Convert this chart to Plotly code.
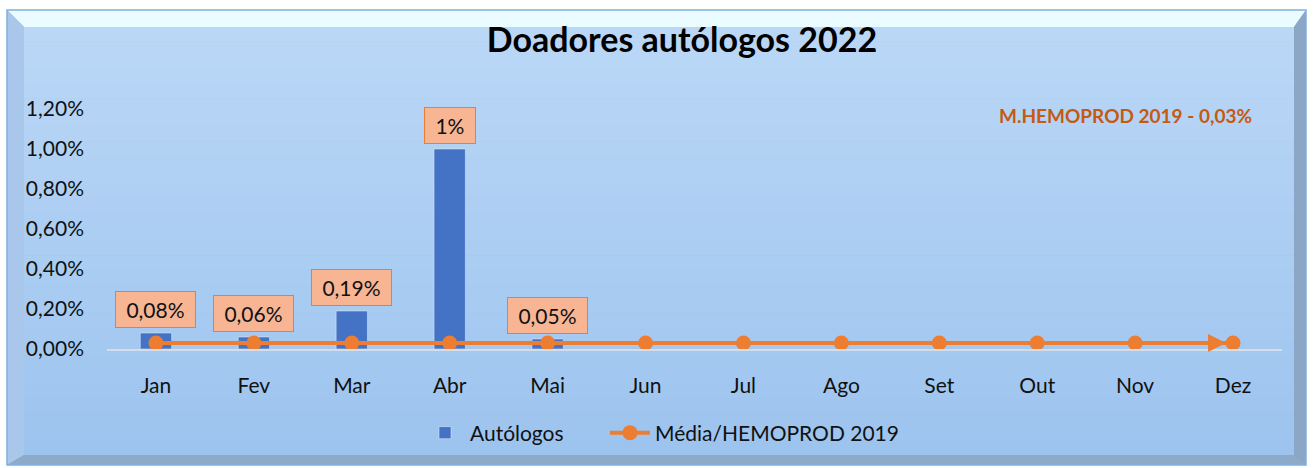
import plotly.graph_objects as go

months = ["Jan", "Fev", "Mar", "Abr", "Mai", "Jun", "Jul", "Ago", "Set", "Out", "Nov", "Dez"]
autologos = [0.0008, 0.0006, 0.0019, 0.0100, 0.0005, None, None, None, None, None, None, None]
media_2019 = [0.0003, 0.0003, 0.0003, 0.0003, 0.0003, 0.0003, 0.0003, 0.0003, 0.0003, 0.0003, 0.0003, 0.0003]
label_texts = ["0,08%", "0,06%", "0,19%", "1%", "0,05%"]
y_ticks = [0, 0.002, 0.004, 0.006, 0.008, 0.010, 0.012]

W, H = 1314, 468
PL, PR, PT, PB = 107, 1282, 89, 349  # plot area in pixels
FONT = "Lato"


def px(x):
    return (x - PL) / (PR - PL)


def py(y):
    return (PB - y) / (PB - PT)


def hexmix(c1, c2, t):
    a = [int(c1[i:i + 2], 16) for i in (1, 3, 5)]
    b = [int(c2[i:i + 2], 16) for i in (1, 3, 5)]
    return "#" + "".join(f"{round(a[k] + (b[k] - a[k]) * t):02x}" for k in range(3))


shapes = []
X0, X1, Y0, Y1 = 7, 1306, 10, 465
IX0, IX1, IY0, IY1 = 24, 1294, 27, 455


def poly(points, color):
    d = "M " + " L ".join(f"{px(x)},{py(y)}" for x, y in points) + " Z"
    return dict(type="path", path=d, xref="paper", yref="paper", fillcolor=color,
                line=dict(width=0), layer="below")


shapes.append(poly([(X0, Y0), (X1, Y0), (X1, Y1), (X0, Y1)], "#8fabcb"))
n = 30
for i in range(n):
    ya = IY0 + (IY1 - IY0) * i / n
    yb = IY0 + (IY1 - IY0) * (i + 1) / n + 0.5
    shapes.append(poly([(IX0, ya), (IX1, ya), (IX1, yb), (IX0, yb)],
                       hexmix("#bad7f6", "#9dc4ef", i / (n - 1))))
shapes.append(poly([(X0, Y0), (X1, Y0), (IX1, IY0), (IX0, IY0)], "#eafcff"))
shapes.append(poly([(X0, Y0), (IX0, IY0), (IX0, IY1), (X0, Y1)], "#a9c7ea"))
shapes.append(poly([(X1, Y0), (X1, Y1), (IX1, IY1), (IX1, IY0)], "#8ba6c6"))
shapes.append(poly([(X0, Y1), (IX0, IY1), (IX1, IY1), (X1, Y1)], "#8daac9"))
shapes.append(dict(type="path",
                   path=f"M {px(X0)},{py(Y0)} L {px(X1)},{py(Y0)} L {px(X1)},{py(Y1)} L {px(X0)},{py(Y1)} Z",
                   xref="paper", yref="paper", line=dict(color="#7fb0e0", width=1.5), layer="below"))

fig = go.Figure()
fig.add_trace(go.Bar(x=months, y=autologos, name="Autólogos", marker_color="#4472c4",
                     width=0.32, legend="legend"))
fig.add_trace(go.Scatter(x=months, y=media_2019, name="Média/HEMOPROD 2019", mode="lines+markers",
                         line=dict(color="#ed7d31", width=4),
                         marker=dict(color="#ed7d31", size=15), legend="legend2"))

annotations = []
for i, t in enumerate(label_texts):
    annotations.append(dict(x=months[i], y=autologos[i], text="&nbsp;" + t + "&nbsp;", showarrow=False,
                            yanchor="bottom", yshift=5, bgcolor="#f7b594", bordercolor="#ed7d31",
                            borderwidth=1, borderpad=5,
                            font=dict(family=FONT, size=21, color="#111111")))
annotations.append(dict(x=months[-1], y=media_2019[-1], ax=10.8, ay=media_2019[-1],
                        axref="x", ayref="y", xref="x", yref="y", text="", showarrow=True,
                        arrowhead=2, arrowsize=0.9, arrowwidth=4, arrowcolor="#ed7d31", standoff=7))
annotations.append(dict(xref="paper", yref="paper", x=px(1125), y=py(115),
                        xanchor="center", yanchor="middle",
                        text="<b>M.HEMOPROD 2019 - 0,03%</b>", showarrow=False,
                        font=dict(family=FONT, size=19, color="#c55a11")))

legend_common = dict(orientation="h", xanchor="left", yanchor="middle", y=py(433),
                     bgcolor="rgba(0,0,0,0)", font=dict(family=FONT, size=21), itemwidth=40)

fig.update_layout(
    width=W, height=H,
    margin=dict(l=PL, r=W - PR, t=PT, b=H - PB),
    paper_bgcolor="white", plot_bgcolor="rgba(0,0,0,0)",
    separators=",.",
    title=dict(text="<b>Doadores autólogos 2022</b>", x=px(682), xanchor="center",
               xref="paper", y=1 - 40 / H, yanchor="middle",
               font=dict(family=FONT, size=34, color="#000000")),
    font=dict(family=FONT, size=21, color="#111111"),
    xaxis=dict(showgrid=False, showline=True, linecolor="#d6dde6", linewidth=2,
               ticks="", ticklabelstandoff=17, range=[-0.5, 11.5]),
    yaxis=dict(range=[0, 0.013], tickvals=y_ticks, tickformat=".2%", showgrid=False,
               zeroline=False, ticks="", ticklabelstandoff=22),
    bargap=0.68,
    legend=dict(x=px(420), **legend_common),
    legend2=dict(x=px(605), **legend_common),
    showlegend=True,
    shapes=shapes,
    annotations=annotations,
)

fig.write_html("out.html", config={"displayModeBar": False},
               post_script="document.body.style.margin='0';document.body.style.overflow='hidden';")
